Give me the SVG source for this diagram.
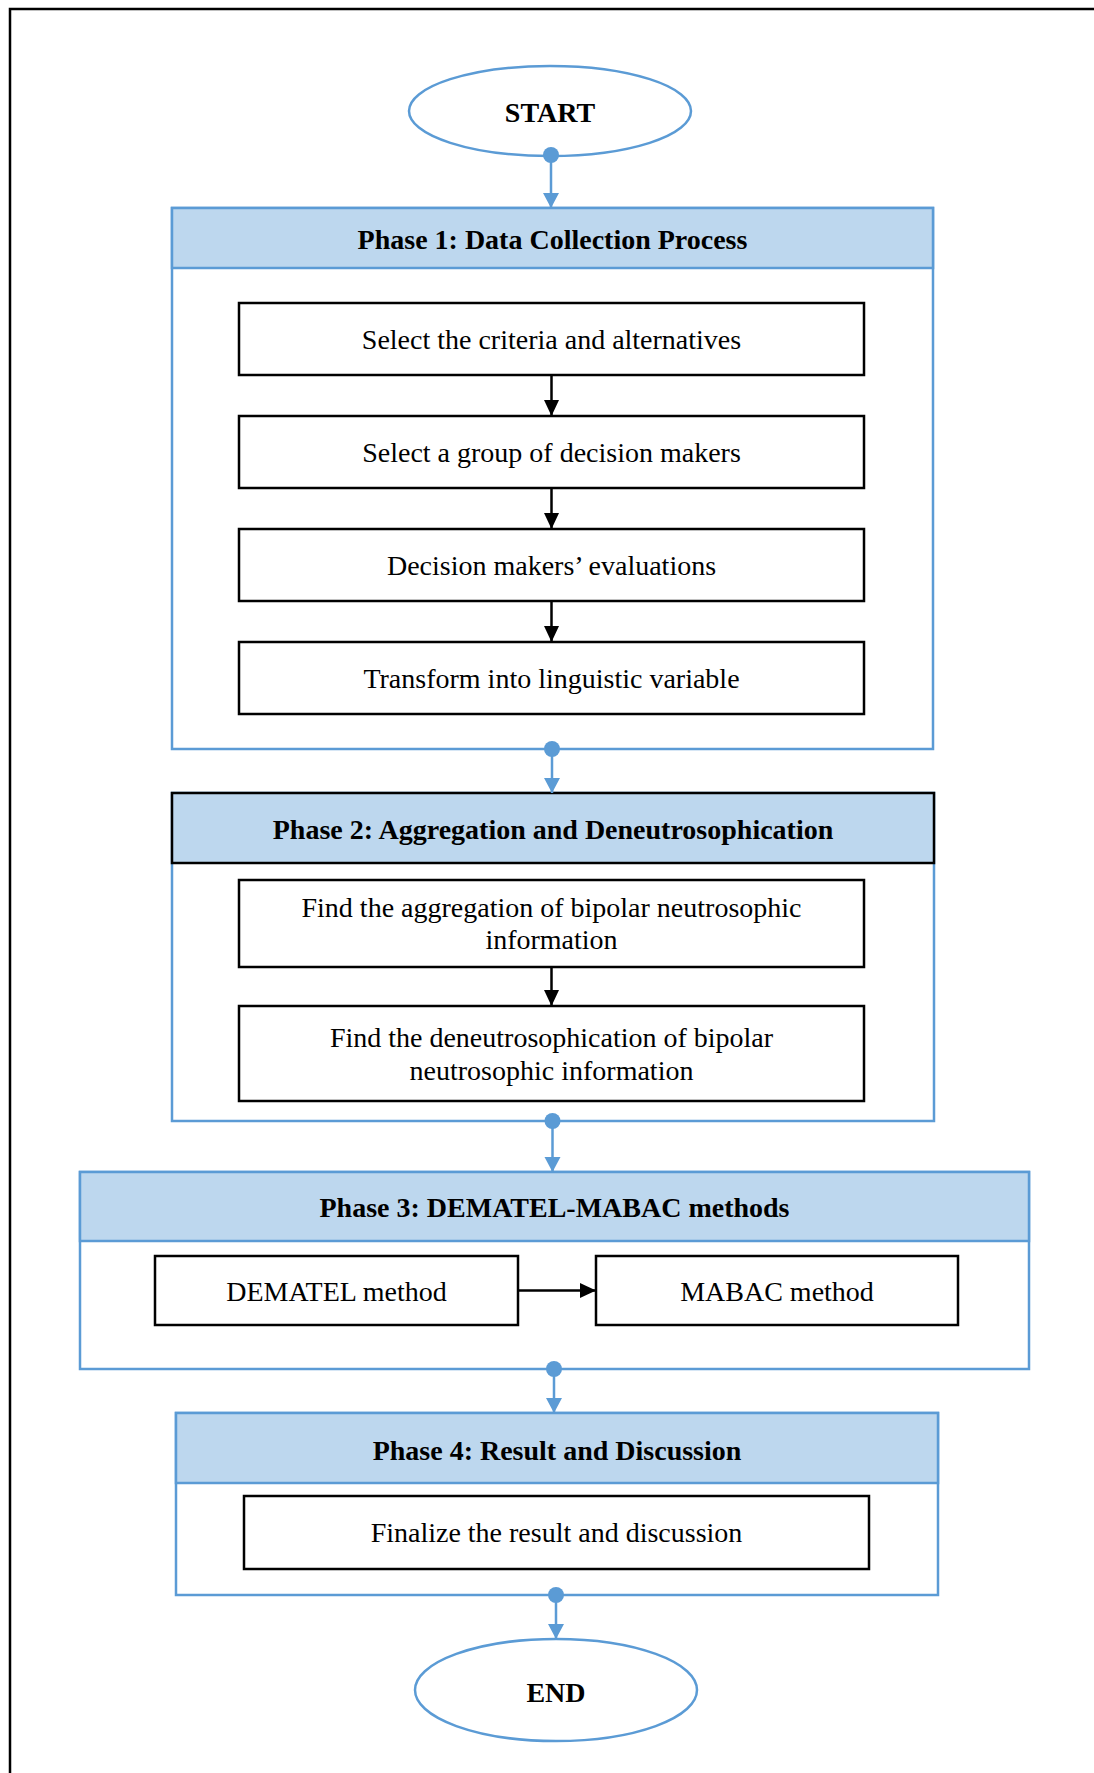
<svg xmlns="http://www.w3.org/2000/svg" width="1094" height="1773" viewBox="0 0 1094 1773">
  <style>
    .frame { fill: none; stroke: #000; stroke-width: 2.5; }
    .phase { fill: #fff; stroke: #5b9bd5; stroke-width: 2.5; }
    .phase-head { fill: #bdd7ee; stroke: #5b9bd5; stroke-width: 2.5; }
    .phase-head.dark { stroke: #000; }
    .step { fill: #fff; stroke: #000; stroke-width: 2.5; }
    .term { fill: #fff; stroke: #5b9bd5; stroke-width: 2.5; }
    .title { font-family: "Liberation Serif", "Times New Roman", serif; font-size: 28px; font-weight: bold; fill: #000; text-anchor: middle; }
    .label { font-family: "Liberation Serif", "Times New Roman", serif; font-size: 28px; fill: #000; text-anchor: middle; }
    .flow { stroke: #5b9bd5; stroke-width: 2.5; fill: none; marker-start: url(#dot); marker-end: url(#blueArrow); }
    .link { stroke: #000; stroke-width: 2.5; fill: none; marker-end: url(#blackArrow); }
  </style>
  <defs>
    <marker id="blueArrow" markerUnits="userSpaceOnUse" markerWidth="17" markerHeight="17" refX="15" refY="8" orient="auto">
      <path d="M0,0 L15,8 L0,16 Z" fill="#5b9bd5"/>
    </marker>
    <marker id="blackArrow" markerUnits="userSpaceOnUse" markerWidth="17" markerHeight="16" refX="16" refY="7.5" orient="auto">
      <path d="M0,0 L16,7.5 L0,15 Z" fill="#000"/>
    </marker>
    <marker id="dot" markerUnits="userSpaceOnUse" markerWidth="18" markerHeight="18" refX="9" refY="9" orient="auto">
      <circle cx="9" cy="9" r="8" fill="#5b9bd5"/>
    </marker>
  </defs>

  <rect width="1094" height="1773" fill="#fff"/>
  <!-- page frame (top and left edges) -->
  <path class="frame" d="M10,1773 L10,9 L1094,9"/>

  <!-- start terminal -->
  <g id="start">
    <ellipse class="term" cx="550" cy="111" rx="141" ry="45"/>
    <text class="title" x="550" y="122">START</text>
  </g>

  <!-- phase 1 -->
  <g id="phase1">
    <rect class="phase" x="172" y="208" width="761" height="541"/>
    <rect class="phase-head" x="172" y="208" width="761" height="60"/>
    <text class="title" x="552.5" y="249">Phase 1: Data Collection Process</text>
  </g>
  <g id="step-criteria">
    <rect class="step" x="239" y="303" width="625" height="72"/>
    <text class="label" x="551.5" y="349">Select the criteria and alternatives</text>
  </g>
  <g id="step-group">
    <rect class="step" x="239" y="416" width="625" height="72"/>
    <text class="label" x="551.5" y="462">Select a group of decision makers</text>
  </g>
  <g id="step-evaluations">
    <rect class="step" x="239" y="529" width="625" height="72"/>
    <text class="label" x="551.5" y="575">Decision makers’ evaluations</text>
  </g>
  <g id="step-linguistic">
    <rect class="step" x="239" y="642" width="625" height="72"/>
    <text class="label" x="551.5" y="688">Transform into linguistic variable</text>
  </g>

  <!-- phase 2 -->
  <g id="phase2">
    <rect class="phase" x="172" y="793" width="762" height="328"/>
    <rect class="phase-head dark" x="172" y="793" width="762" height="70"/>
    <text class="title" x="553" y="839">Phase 2: Aggregation and Deneutrosophication</text>
  </g>
  <g id="step-aggregation">
    <rect class="step" x="239" y="880" width="625" height="87"/>
    <text class="label" x="551.5" y="917">Find the aggregation of bipolar neutrosophic</text>
    <text class="label" x="551.5" y="949">information</text>
  </g>
  <g id="step-deneutrosophication">
    <rect class="step" x="239" y="1006" width="625" height="95"/>
    <text class="label" x="551.5" y="1047">Find the deneutrosophication of bipolar</text>
    <text class="label" x="551.5" y="1080">neutrosophic information</text>
  </g>

  <!-- phase 3 -->
  <g id="phase3">
    <rect class="phase" x="80" y="1172" width="949" height="197"/>
    <rect class="phase-head" x="80" y="1172" width="949" height="69"/>
    <text class="title" x="554.5" y="1217">Phase 3: DEMATEL-MABAC methods</text>
  </g>
  <g id="step-dematel">
    <rect class="step" x="155" y="1256" width="363" height="69"/>
    <text class="label" x="336.5" y="1301">DEMATEL method</text>
  </g>
  <g id="step-mabac">
    <rect class="step" x="596" y="1256" width="362" height="69"/>
    <text class="label" x="777" y="1301">MABAC method</text>
  </g>

  <!-- phase 4 -->
  <g id="phase4">
    <rect class="phase" x="176" y="1413" width="762" height="182"/>
    <rect class="phase-head" x="176" y="1413" width="762" height="70"/>
    <text class="title" x="557" y="1460">Phase 4: Result and Discussion</text>
  </g>
  <g id="step-finalize">
    <rect class="step" x="244" y="1496" width="625" height="73"/>
    <text class="label" x="556.5" y="1542">Finalize the result and discussion</text>
  </g>

  <!-- end terminal -->
  <g id="end">
    <ellipse class="term" cx="556" cy="1690" rx="141" ry="51"/>
    <text class="title" x="556" y="1702">END</text>
  </g>

  <!-- connectors -->
  <g id="connectors">
    <line class="flow" x1="551" y1="155" x2="551" y2="208"/>
    <line class="flow" x1="552" y1="749" x2="552" y2="793"/>
    <line class="flow" x1="552.5" y1="1121" x2="552.5" y2="1172"/>
    <line class="flow" x1="554" y1="1369" x2="554" y2="1413"/>
    <line class="flow" x1="556" y1="1595" x2="556" y2="1639"/>
    <line class="link" x1="551.5" y1="375" x2="551.5" y2="416"/>
    <line class="link" x1="551.5" y1="488" x2="551.5" y2="529"/>
    <line class="link" x1="551.5" y1="601" x2="551.5" y2="642"/>
    <line class="link" x1="551.5" y1="967" x2="551.5" y2="1006"/>
    <line class="link" x1="518" y1="1290.5" x2="596" y2="1290.5"/>
  </g>
</svg>
